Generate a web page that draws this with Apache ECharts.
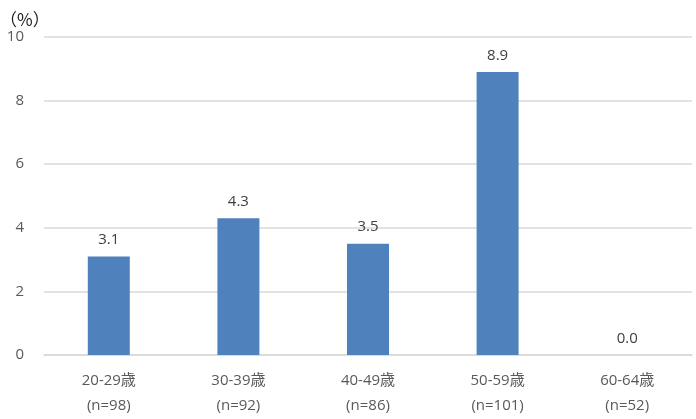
<!DOCTYPE html>
<html>
<head>
<meta charset="utf-8">
<script src="https://cdn.jsdelivr.net/npm/echarts@6/dist/echarts.min.js"></script>
<style>html,body{margin:0;padding:0;background:#fff}#c{width:696px;height:419px}</style>
</head>
<body>
<div id="c"></div>
<script>
var categories = ['20-29歳\n(n=98)', '30-39歳\n(n=92)', '40-49歳\n(n=86)', '50-59歳\n(n=101)', '60-64歳\n(n=52)'];
var values = [3.1, 4.3, 3.5, 8.9, 0.0];
var yTicks = [0, 2, 4, 6, 8, 10];
var unitLabel = '（%）';

var font = '"Open Sans", "Noto Sans CJK JP", sans-serif';
var chart = echarts.init(document.getElementById('c'), null, {renderer: 'canvas'});
chart.setOption({
  animation: false,
  textStyle: {fontFamily: font},
  title: {
    text: unitLabel, left: -5, top: 6,
    textStyle: {fontSize: 17, fontWeight: 'normal', color: '#1a1a1a', fontFamily: '"Noto Sans CJK JP", sans-serif'}
  },
  grid: {left: 44, right: 4, top: 37, bottom: 64},
  xAxis: {
    type: 'category', data: categories,
    axisLine: {show: true, lineStyle: {color: '#d9d9d9', width: 1.5}},
    axisTick: {show: false},
    axisLabel: {color: '#595959', fontSize: 15, lineHeight: 25, margin: 13, fontFamily: font}
  },
  yAxis: {
    type: 'value', min: yTicks[0], max: yTicks[yTicks.length - 1], interval: 2,
    axisLine: {show: false}, axisTick: {show: false},
    axisLabel: {color: '#595959', fontSize: 15, margin: 20, fontFamily: font},
    splitLine: {lineStyle: {color: '#d9d9d9', width: 1.5}}
  },
  series: [{
    type: 'bar', data: values, barWidth: 42,
    itemStyle: {color: '#4f81bd'},
    label: {
      show: true, position: 'top', distance: 9, color: '#404040', fontSize: 15, fontFamily: font,
      formatter: function (p) { return p.value.toFixed(1); }
    }
  }]
});
</script>
</body>
</html>
